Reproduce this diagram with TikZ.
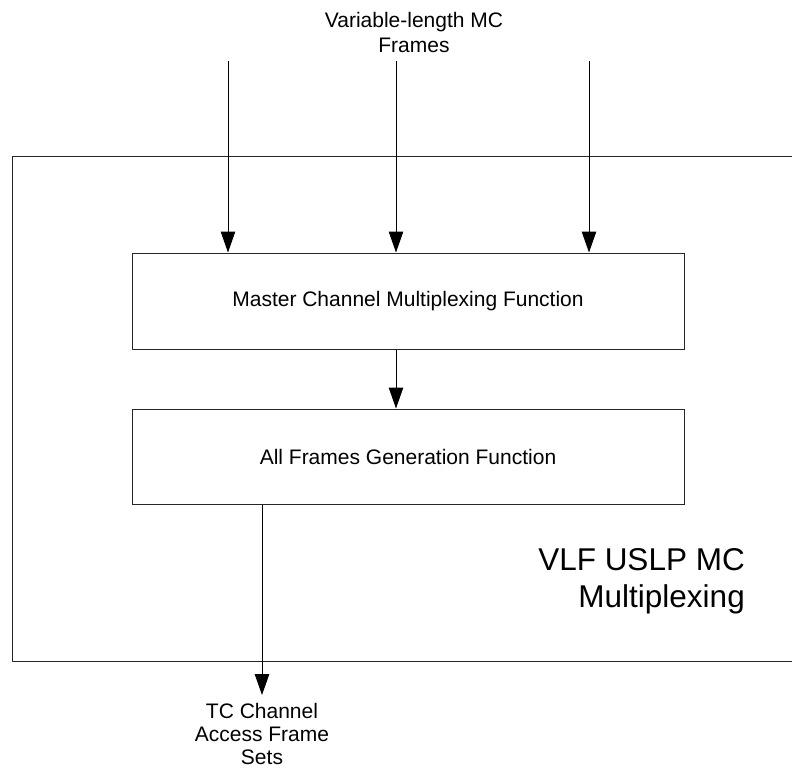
\documentclass[tikz,border=0pt]{standalone}
\usepackage{fontspec}
\setmainfont{Liberation Sans}
\usepackage{tikz}
\usetikzlibrary{arrows.meta,positioning,calc}
\tikzset{
  mcframe/.style  = {rectangle, draw=black!85, line width=1pt, inner sep=0pt},
  mcbox/.style    = {rectangle, draw=black!85, line width=1pt, align=center,
                     font=\fontsize{21}{25}\selectfont, inner sep=0pt,
                     minimum width=552pt},
  mcflow/.style   = {-{Triangle[length=21pt,width=14.5pt]}, draw=black, line width=1pt},
  mclbl/.style    = {align=center, font=\fontsize{21}{24.5}\selectfont, inner sep=0pt},
  mctitle/.style  = {align=right, font=\fontsize{31.5}{37}\selectfont, inner sep=0pt},
}

\begin{document}
\begin{tikzpicture}[x=1pt, y=-1pt]
  \useasboundingbox (0,0) rectangle (792,769);
  \clip (0,0) rectangle (792,769);

  \node[mcframe, minimum width=808pt, minimum height=505pt] (frame) at (416,408.5) {};
  \node[mcbox, minimum height=96pt] (mux) at (408,301)   {Master Channel Multiplexing Function};
  \node[mcbox, minimum height=95pt] (gen) at (408,456.5) {All Frames Generation Function};

  \node[mclbl] (frames) at (414,32.5) {Variable-length MC\\Frames};
  \node[mclbl, anchor=north, inner sep=8.5pt, font=\fontsize{21}{23}\selectfont]
        (tcout) at (262,695) {TC Channel\\Access Frame\\Sets};
  \node[mctitle, anchor=north east] (vlf) at (745,548) {VLF USLP MC\\Multiplexing};

  \coordinate (inA) at (228,61);
  \coordinate (inB) at (396,61);
  \coordinate (inC) at (589,61);

  \draw[mcflow] (inA) -- (inA |- mux.north);
  \draw[mcflow] (inB) -- (inB |- mux.north);
  \draw[mcflow] (inC) -- (inC |- mux.north);
  \draw[mcflow] (inB |- mux.south) -- (inB |- gen.north);
  \draw[mcflow] (tcout.north |- gen.south) -- (tcout.north);
\end{tikzpicture}
\end{document}
